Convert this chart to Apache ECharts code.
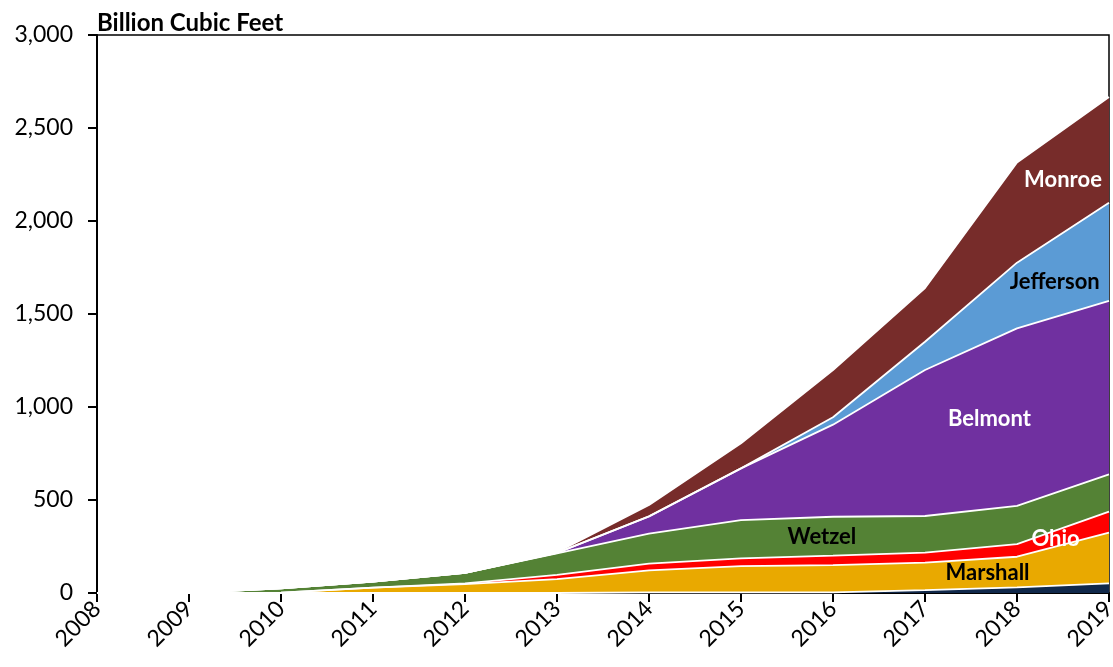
<!DOCTYPE html>
<html>
<head>
<meta charset="utf-8">
<script src="https://cdn.jsdelivr.net/npm/echarts@6/dist/echarts.min.js"></script>
<style>
html,body{margin:0;padding:0;background:#fff;}
#chart{width:1113px;height:667px;}
</style>
</head>
<body>
<div id="chart"></div>
<script>
const years = ['2008', '2009', '2010', '2011', '2012', '2013', '2014', '2015', '2016', '2017', '2018', '2019'];
const other     = [0, 0, 0, 0, 0, 0, 3, 3, 3, 15, 30, 52];
const marshall  = [0, 0, 2, 29, 48, 75, 119, 142, 147, 148, 165, 272];
const ohio      = [0, 0, 0, 0, 4, 22, 36, 41, 51, 54, 68, 113];
const wetzel    = [0, 1, 23, 32, 56, 116, 161, 206, 209, 197, 205, 201];
const belmont   = [0, 0, 0, 0, 0, 3, 93, 278, 495, 785, 955, 932];
const jefferson = [0, 0, 0, 0, 0, 0, 0, 0, 40, 152, 353, 528];
const monroe    = [0, 0, 0, 0, 0, 3, 61, 135, 254, 289, 539, 569];

const FONT = 'Lato';
const seriesDefs = [
  {name: 'Other', data: other, color: '#10284a'},
  {name: 'Marshall', data: marshall, color: '#e9a900'},
  {name: 'Ohio', data: ohio, color: '#ff0000'},
  {name: 'Wetzel', data: wetzel, color: '#548235'},
  {name: 'Belmont', data: belmont, color: '#7030a0'},
  {name: 'Jefferson', data: jefferson, color: '#5b9bd5'},
  {name: 'Monroe', data: monroe, color: '#772c2a'}
];

const chart = echarts.init(document.getElementById('chart'));
chart.setOption({
  animation: false,
  backgroundColor: '#fff',
  title: {
    text: 'Billion Cubic Feet', left: 92, top: 6,
    textStyle: {fontFamily: FONT, fontWeight: 'bold', fontSize: 24, color: '#000'}
  },
  grid: {left: 97, right: 4, top: 35, bottom: 74, containLabel: false, outerBoundsMode: 'none',
    show: true, borderColor: '#000', borderWidth: 1.5, backgroundColor: 'transparent'},
  xAxis: {
    type: 'category', data: years, boundaryGap: false,
    splitLine: {show: false},
    axisLine: {show: true, lineStyle: {color: '#000', width: 2}},
    axisTick: {show: true, length: 9, inside: false, alignWithLabel: true, lineStyle: {color: '#000', width: 2}},
    axisLabel: {rotate: 45, margin: 12, interval: 0, fontFamily: FONT, fontSize: 23, color: '#000'}
  },
  yAxis: {
    type: 'value', min: 0, max: 3000, interval: 500,
    splitLine: {show: false},
    axisLine: {show: true, lineStyle: {color: '#000', width: 2}},
    axisTick: {show: true, length: 9, lineStyle: {color: '#000', width: 2}},
    axisLabel: {margin: 24, fontFamily: FONT, fontSize: 23, color: '#000',
      formatter: v => v.toLocaleString('en-US')}
  },
  series: seriesDefs.map(s => ({
    name: s.name, type: 'line', stack: 'total', symbol: 'none',
    data: s.data,
    lineStyle: {color: '#fff', width: 1.8},
    areaStyle: {color: s.color, opacity: 1},
    itemStyle: {color: s.color}
  }))
});

// label anchors in data space: fractional category index and value
const labels = [
  {text: 'Monroe', at: [10.5, 2220], color: '#fff'},
  {text: 'Jefferson', at: [10.41, 1672], color: '#000'},
  {text: 'Belmont', at: [9.7, 935], color: '#fff'},
  {text: 'Wetzel', at: [7.88, 301], color: '#000'},
  {text: 'Ohio', at: [10.42, 290], color: '#fff'},
  {text: 'Marshall', at: [9.68, 108], color: '#000'}
];
function toPixel(idx, val) {
  const i0 = Math.floor(idx), i1 = Math.min(i0 + 1, years.length - 1);
  const p0 = chart.convertToPixel({gridIndex: 0}, [i0, val]);
  const p1 = chart.convertToPixel({gridIndex: 0}, [i1, val]);
  const f = idx - i0;
  return [p0[0] + (p1[0] - p0[0]) * f, p0[1]];
}
chart.setOption({
  graphic: labels.map(l => {
    const p = toPixel(l.at[0], l.at[1]);
    return {
      type: 'text', x: p[0], y: p[1], z: 100,
      style: {text: l.text, fill: l.color, font: 'bold 22px ' + FONT, textAlign: 'center', textVerticalAlign: 'middle'}
    };
  })
});
</script>
</body>
</html>
